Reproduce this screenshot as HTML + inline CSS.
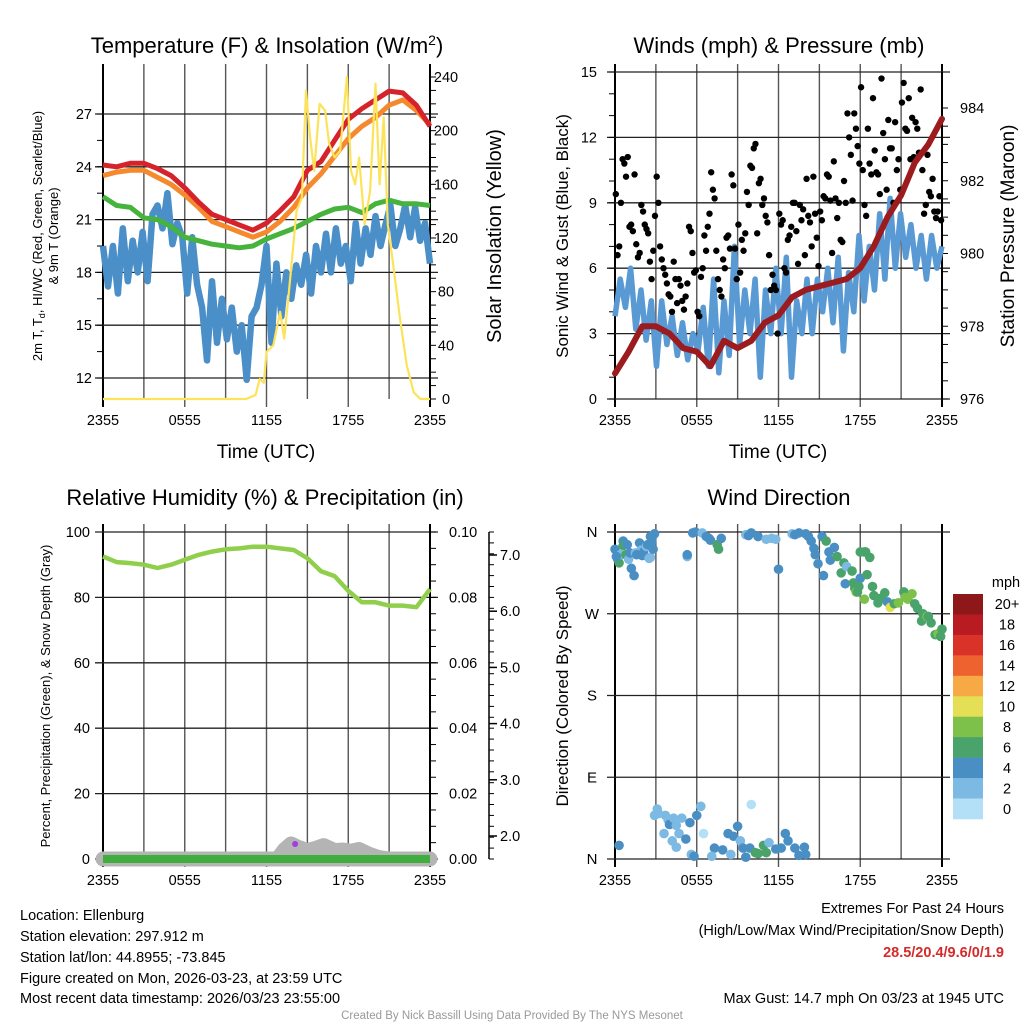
<!DOCTYPE html>
<html><head><meta charset="utf-8"><style>
html,body{margin:0;padding:0;background:#fff;}
svg{display:block;font-family:"Liberation Sans",sans-serif;}
</style></head><body>
<svg id="fig" width="1024" height="1024" viewBox="0 0 1024 1024" xmlns="http://www.w3.org/2000/svg">
<rect width="1024" height="1024" fill="#fff"/>
<text x="267" y="53" font-size="22" text-anchor="middle">Temperature (F) &amp; Insolation (W/m<tspan dy="-8" font-size="14">2</tspan><tspan dy="8">)</tspan></text>
<text x="779" y="53" font-size="22" text-anchor="middle">Winds (mph) &amp; Pressure (mb)</text>
<text x="265" y="505" font-size="22" text-anchor="middle">Relative Humidity (%) &amp; Precipitation (in)</text>
<text x="779" y="505" font-size="22" text-anchor="middle">Wind Direction</text>
<text x="266" y="458" font-size="19" text-anchor="middle">Time (UTC)</text>
<text x="778" y="458" font-size="19" text-anchor="middle">Time (UTC)</text>
<text transform="translate(42,236) rotate(-90)" font-size="13" text-anchor="middle">2m T, T<tspan font-size="9" dy="3">d</tspan><tspan dy="-3">, HI/WC (Red, Green, Scarlet/Blue)</tspan></text>
<text transform="translate(58,236) rotate(-90)" font-size="13" text-anchor="middle">&amp; 9m T (Orange)</text>
<text transform="translate(501,236) rotate(-90)" font-size="20" text-anchor="middle">Solar Insolation (Yellow)</text>
<text transform="translate(568,236) rotate(-90)" font-size="17" text-anchor="middle">Sonic Wind &amp; Gust (Blue, Black)</text>
<text transform="translate(1014,236) rotate(-90)" font-size="19" text-anchor="middle">Station Pressure (Maroon)</text>
<text transform="translate(50,696) rotate(-90)" font-size="13" text-anchor="middle">Percent, Precipitation (Green), &amp; Snow Depth (Gray)</text>
<text transform="translate(568,696) rotate(-90)" font-size="17" text-anchor="middle">Direction (Colored By Speed)</text>
<g font-size="14.5">
<text x="20" y="920">Location: Ellenburg</text>
<text x="20" y="941">Station elevation: 297.912 m</text>
<text x="20" y="962">Station lat/lon: 44.8955; -73.845</text>
<text x="20" y="983">Figure created on Mon, 2026-03-23, at 23:59 UTC</text>
<text x="20" y="1003">Most recent data timestamp: 2026/03/23 23:55:00</text>
</g>
<g font-size="14.5" text-anchor="end">
<text x="1004" y="913">Extremes For Past 24 Hours</text>
<text x="1004" y="935">(High/Low/Max Wind/Precipitation/Snow Depth)</text>
<text x="1004" y="957" fill="#d42a2a" font-weight="bold">28.5/20.4/9.6/0/1.9</text>
<text x="1004" y="1003">Max Gust: 14.7 mph On 03/23 at 1945 UTC</text>
</g>
<text x="512" y="1019" font-size="11.5" fill="#999" text-anchor="middle">Created By Nick Bassill Using Data Provided By The NYS Mesonet</text>
<g id="plots"></g>
</svg>
<script>
// ---------- data ----------
const xTickLabels = ["2355","0555","1155","1755","2355"];
const tempTicks = [12,15,18,21,24,27];
const solarTicks = [0,40,80,120,160,200,240];
const windTicks = [0,3,6,9,12,15];
const presTicks = [976,978,980,982,984];
const rhTicks = [0,20,40,60,80,100];
const precipTicks = ["0.00","0.02","0.04","0.06","0.08","0.10"];
const snowTicks = [2,3,4,5,6,7];
const dirTicks = ["N","E","S","W","N"];
const cbLabels = ["20+","18","16","14","12","10","8","6","4","2","0"];
const cbColors = ["#8e1719","#b81b22","#d93228","#ee6230","#f6a944","#e5df55","#7dc04a","#4aa36a","#4a8fc4","#7cb9e3","#b3e0f7"];

const tempRed = [24.1,24.0,24.2,24.2,23.9,23.5,22.8,22.0,21.3,21.0,20.7,20.4,20.8,21.5,22.3,23.8,24.3,25.5,26.7,27.3,27.8,28.3,28.2,27.5,26.3];
const tempOrange = [23.5,23.7,23.8,23.8,23.4,23.0,22.4,21.7,20.9,20.6,20.3,20.0,20.3,20.9,21.7,22.8,23.6,24.6,25.6,26.3,26.8,27.5,27.8,27.2,26.4];
const tempGreen = [22.3,21.8,21.7,21.1,21.0,20.6,20.0,19.8,19.6,19.5,19.4,19.5,19.9,20.2,20.5,20.9,21.3,21.6,21.7,21.4,21.9,22.1,21.9,21.9,21.8];
const tempBlue = [19.5,17.2,19.5,16.8,20.5,17.5,19.8,18.0,20.3,17.5,21.3,21.8,20.5,22.5,19.6,20.8,20.0,16.8,20.0,17.3,16.0,13.0,17.5,14.0,16.5,14.2,16.0,13.5,15.0,11.9,15.5,16.0,17.3,19.5,14.0,18.5,15.5,18.0,16.5,18.4,17.3,19.0,16.8,19.5,18.0,20.2,18.0,20.5,18.5,19.5,17.5,20.8,18.5,20.5,19.0,21.2,19.5,20.7,21.8,19.5,20.5,21.8,20.0,21.7,19.8,20.8,18.5];
const solarHour = [0,10.5,11.2,11.5,11.8,12.0,12.5,13.0,13.3,13.6,14.2,14.6,14.9,15.2,15.5,15.9,16.3,16.6,17.0,17.4,17.9,18.2,18.5,18.8,19.2,19.6,20.0,20.3,20.6,20.9,21.3,21.8,22.3,22.8,23.3,24];
const solarVal = [0,0,3,15,12,35,40,65,45,75,140,150,230,195,170,220,215,190,180,185,240,170,160,180,130,155,235,160,210,130,100,60,25,5,0,0];

const windSpeed = [3.8,5.5,4.2,6.0,3.2,5.0,2.7,4.5,1.5,4.5,2.5,3.8,2.0,3.5,1.8,3.0,2.2,4.2,1.5,5.5,1.2,4.5,2.0,7.0,2.5,5.0,3.0,5.5,1.0,5.0,3.0,6.0,3.0,6.5,1.0,4.5,3.0,5.5,3.0,5.5,4.0,6.0,3.5,6.5,2.2,5.8,4.0,7.5,4.5,7.0,5.0,8.5,5.5,9.2,6.0,8.5,6.5,8.0,6.0,7.5,5.5,7.5,6.0,7.0];
const gusts = [9.4,6.6,7.0,9.0,11.0,10.8,10.2,11.1,7.9,8.0,7.7,10.3,7.1,6.5,6.7,8.9,8.6,8.0,7.8,7.6,6.3,5.5,6.8,8.4,10.2,9.0,7.0,6.4,6.0,5.7,5.3,4.8,4.7,4.0,6.3,5.5,4.4,5.5,5.2,4.5,4.1,4.7,5.3,7.9,7.7,6.7,5.8,5.9,4.0,3.8,5.6,6.0,7.5,6.8,7.9,8.5,10.4,9.6,9.2,6.8,5.5,5.0,4.7,6.4,6.0,7.4,7.5,6.9,10.3,9.8,6.9,5.5,8.0,5.8,7.3,6.8,7.6,9.5,8.9,10.7,10.6,11.5,11.7,7.6,9.9,10.1,8.9,9.2,8.4,8.1,6.6,5.0,5.7,5.2,5.0,3.0,8.5,8.0,8.2,6.0,5.8,7.3,7.5,7.9,9.0,9.0,7.7,6.2,8.9,8.2,8.7,6.6,10.1,8.4,8.1,7.0,10.2,8.5,7.4,6.1,8.6,8.2,9.3,9.2,10.3,10.2,9.1,6.7,10.9,9.2,8.3,9.0,7.3,7.2,10.0,9.0,13.1,12.0,11.2,9.1,13.1,12.4,11.6,10.8,14.3,10.5,8.9,8.4,12.4,10.8,10.3,13.8,11.4,10.4,10.3,9.4,14.7,12.2,11.0,9.6,12.8,11.5,11.5,9.0,12.7,10.5,11.0,9.6,13.6,14.5,12.4,12.3,13.8,11.0,12.9,11.1,12.7,12.4,11.3,14.2,10.5,8.5,8.9,11.2,9.5,9.3,10.1,8.6,8.3,8.6,9.3,8.2];
const pressure = [976.7,977.3,978.0,978.0,977.8,977.4,977.3,976.9,977.6,977.4,977.6,978.1,978.3,978.8,979.0,979.1,979.2,979.3,979.6,980.2,981.0,981.6,982.5,983.0,983.7];

const rh = [92.5,90.8,90.5,90.0,89.0,90.0,91.5,93.0,94.0,94.7,95.0,95.5,95.5,95.0,94.5,92.0,88.0,86.5,82.0,78.5,78.5,77.5,77.5,77.0,82.5];
const snowHour = [0,12.8,13.3,13.8,14.3,15.0,15.6,16.2,17.0,17.6,18.2,18.8,19.5,20.2,21,24];
const snowDepth = [1.59,1.59,1.75,1.86,1.80,1.74,1.78,1.83,1.74,1.75,1.73,1.76,1.68,1.62,1.59,1.59];
const precip = [0,0];

const dirHour = [0.0,0.2,0.3,0.4,0.6,0.6,0.9,0.8,1.0,1.1,1.2,1.4,1.8,1.9,2.0,2.1,2.3,2.4,2.6,2.6,2.7,2.9,2.8,1.5,1.6,2.5,0.1,5.3,5.3,5.7,5.9,6.4,6.7,6.9,7.0,7.5,7.6,7.8,9.6,9.8,10.0,10.5,11.1,11.5,11.8,12.0,13.0,13.2,13.5,14.0,14.2,14.4,14.6,14.7,14.9,15.3,15.2,15.5,15.7,15.8,16.1,16.3,16.8,16.6,16.9,17.0,17.5,17.6,17.4,17.7,17.8,18.0,17.9,18.3,18.5,18.4,18.3,18.0,18.7,18.9,19.0,19.3,19.5,19.8,20.0,20.2,20.5,20.8,21.2,21.3,21.5,21.8,22.0,22.2,22.5,22.6,22.9,23.0,23.2,23.5,23.7,24.0,23.9,0.3,2.9,3.1,3.2,3.7,3.9,4.0,4.3,4.5,4.7,4.5,4.9,5.2,5.5,5.6,5.8,6.0,6.3,6.5,7.3,7.9,8.3,8.7,9.0,9.2,9.4,9.6,9.9,10.0,10.3,10.5,10.9,11.1,11.3,11.8,12.2,12.5,12.7,13.2,13.5,13.9,14.0,3.6,4.2,7.1,8.5];
const dirDeg = [341,330,326,335,350,345,346,335,330,337,320,312,348,340,334,338,344,346,332,355,350,358,341,337,335,331,333,333,335,359,360,359,355,353,351,346,341,353,357,356,359,355,352,353,352,319,358,357,359,358,355,350,342,335,325,312,355,350,338,329,343,333,326,315,303,322,304,298,317,294,294,309,300,286,313,338,338,338,332,300,290,282,287,293,283,277,281,282,294,288,286,292,281,276,262,270,267,267,260,247,248,253,245,15,48,55,50,48,43,38,45,37,28,13,45,22,40,5,3,48,58,28,12,10,28,25,36,20,12,2,12,60,7,6,15,7,18,11,12,28,20,12,4,13,5,28,20,3,5];
const dirSpeed = [4,4,6,3,4,7,4,6,2,4,4,4,4,2,4,4,2,4,2,4,4,4,4,2,4,2,4,2,4,4,4,2,4,4,4,6,6,4,2,4,4,4,2,2,2,4,2,4,4,4,4,4,4,4,4,4,4,6,4,4,4,6,6,6,4,2,6,6,6,8,6,4,6,8,6,6,6,6,6,6,6,6,6,6,4,10,6,8,6,8,8,8,6,6,6,6,8,6,6,6,8,6,6,4,2,2,2,2,2,4,2,2,2,2,2,4,4,2,4,4,2,0,4,4,4,4,4,2,4,4,4,0,6,6,6,6,2,4,4,4,4,4,4,4,4,2,2,2,2];

// ---------- drawing ----------
const NS = "http://www.w3.org/2000/svg";
const root = document.getElementById('plots');
function el(tag, attrs, parent){
  const e = document.createElementNS(NS, tag);
  for (const k in attrs) e.setAttribute(k, attrs[k]);
  (parent||root).appendChild(e);
  return e;
}
function scale(d0,d1,r0,r1){ return v => r0 + (v-d0)/(d1-d0)*(r1-r0); }
function lineD(xs, ys){ return xs.map((x,i)=>(i?'L':'M')+x.toFixed(1)+','+ys[i].toFixed(1)).join(''); }
function evenHours(n){ return Array.from({length:n},(_,i)=>i*24/(n-1)); }

function frame(L,R,T,B,hTicksY,name){
  const g = el('g',{});
  
  
  for (let i=0;i<=8;i++){
    const x = L + i*(R-L)/8;
    el('line',{x1:x,y1:T-8,x2:x,y2:B+ (i%2===0?8:0),stroke:(i===0||i===8)?'#000':'#555','stroke-width':(i===0||i===8)?2:1.4},g);
  }
  hTicksY.forEach(y=>el('line',{x1:L-8,y1:y,x2:R+8,y2:y,stroke:'#222','stroke-width':1.3},g));
  xTickLabels.forEach((t,i)=>{
    const tx = el('text',{x:L+i*(R-L)/4,y:B+26,'font-size':14.5,'text-anchor':'middle'},g);
    tx.textContent=t;
  });
  return g;
}
function labels(vals, ys, x, anchor, size, name){
  vals.forEach((v,i)=>{
    const t = el('text',{x:x,y:ys[i]+5,'font-size':size||14.5,'text-anchor':anchor});
    
    
    t.textContent = v;
  });
}
function minor(x, y0, y1, n, len){
  for (let i=0;i<=n;i++){ const y=y0+i*(y1-y0)/n; el('line',{x1:x,y1:y,x2:x+len,y2:y,stroke:'#000','stroke-width':1}); }
}

// Panel 1: temperature
{
  const L=103,R=430,T=72,B=399;
  const xs = scale(0,24,L,R), yT = scale(12,27,378,114), yS = scale(0,240,399,77);
  frame(L,R,T,B,tempTicks.map(yT),'temp');
  labels(tempTicks, tempTicks.map(yT), 92,'end',14.5,'temp-tick-label');
  labels(solarTicks, solarTicks.map(yS), 446,'middle',14.5,'solar-tick-label');
  el('line',{x1:R,y1:T,x2:R,y2:B,stroke:'#000','stroke-width':2});
  minor(R, 399, 77, 24, 6);
  minor(L-6, 378, 114, 10, 6);
  const hb = evenHours(tempBlue.length);
  const b = el('path',{d:lineD(hb.map(xs),tempBlue.map(yT)),fill:'none',stroke:'#4a8fc8','stroke-width':6.5,'stroke-linejoin':'round'});
   
  const h = evenHours(25);
  const g = el('path',{d:lineD(h.map(xs),tempGreen.map(yT)),fill:'none',stroke:'#45b33c','stroke-width':5,'stroke-linejoin':'round'});
   
  const o = el('path',{d:lineD(h.map(xs),tempOrange.map(yT)),fill:'none',stroke:'#f4892e','stroke-width':5,'stroke-linejoin':'round'});
   
  const r = el('path',{d:lineD(h.map(xs),tempRed.map(yT)),fill:'none',stroke:'#d6222a','stroke-width':5,'stroke-linejoin':'round'});
   
  const s = el('path',{d:lineD(solarHour.map(xs),solarVal.map(yS)),fill:'none',stroke:'#fce35a','stroke-width':2.2,'stroke-linejoin':'round'});
   
}
// Panel 2: wind
{
  const L=615,R=942,T=72,B=399;
  const xs = scale(0,24,L,R), yW = scale(0,15,399,72), yP = scale(976,984,399,108);
  frame(L,R,T,B,windTicks.map(yW),'wind');
  labels(windTicks, windTicks.map(yW), 597,'end',14.5,'wind-tick-label');
  labels(presTicks, presTicks.map(yP), 960,'start',14.5,'pressure-tick-label');
  el('line',{x1:R,y1:T,x2:R,y2:B,stroke:'#000','stroke-width':2});
  minor(R, 399, 108, 16, 6);
  minor(L-6, 399, 72, 15, 6);
  const hw = evenHours(windSpeed.length);
  const w = el('path',{d:lineD(hw.map(xs),windSpeed.map(yW)),fill:'none',stroke:'#5a9ad4','stroke-width':5.5,'stroke-linejoin':'round'});
   
  gusts.forEach((v,i)=>{
    const c = el('circle',{cx:xs(i*24/gusts.length+0.06),cy:yW(v),r:3.2,fill:'#000'});
    
    
  });
  const p = el('path',{d:lineD(evenHours(25).map(xs),pressure.map(yP)),fill:'none',stroke:'#9b1b1e','stroke-width':6,'stroke-linejoin':'round','stroke-linecap':'round'});
   
}
// Panel 3: RH
{
  const L=103,R=430,T=532,B=859;
  const xs = scale(0,24,L,R), yR = scale(0,100,859,532), ySn = scale(2,7,836,555);
  frame(L,R,T,B,rhTicks.map(yR),'rh');
  labels(rhTicks, rhTicks.map(yR), 90,'end',14.5,'rh-tick-label');
  labels(precipTicks, rhTicks.map(yR), 449,'start',14.5,'precip-tick-label');
  labels(snowTicks.map(v=>v.toFixed(1)), snowTicks.map(ySn), 500,'start',14.5,'snow-tick-label');
  el('line',{x1:R,y1:T,x2:R,y2:B,stroke:'#000','stroke-width':2});
  minor(R, 859, 532, 20, 6);
  el('line',{x1:489,y1:532,x2:489,y2:859,stroke:'#000','stroke-width':1.5});
  minor(489, 859, 532, 30, 5);
  snowTicks.forEach(v=>el('line',{x1:489,y1:ySn(v),x2:497,y2:ySn(v),stroke:'#000','stroke-width':1.5}));
  const sn = el('path',{d:lineD(snowHour.map(xs),snowDepth.map(ySn))+'L'+xs(24)+','+(B)+'L'+xs(0)+','+B+'Z',fill:'#b4b4b4',stroke:'#b4b4b4','stroke-width':15,'stroke-linejoin':'round','stroke-linecap':'round'});
   
  const pr = el('path',{d:lineD([xs(0),xs(24)],precip.map(v=>yR(v*1000))),fill:'none',stroke:'#3fae3f','stroke-width':8});
   
  const rl = el('path',{d:lineD(evenHours(25).map(xs),rh.map(yR)),fill:'none',stroke:'#8fcf4c','stroke-width':4.5,'stroke-linejoin':'round'});
   
  const mk = el('circle',{cx:xs(14.1),cy:844,r:3,fill:'#a03ee0'});
   
}
// Panel 4: wind direction
{
  const L=615,R=942,T=532,B=859;
  const xs = scale(0,24,L,R), yD = scale(0,360,859,532);
  frame(L,R,T,B,[0,90,180,270,360].map(yD),'direction');
  labels(dirTicks, [0,90,180,270,360].map(yD), 592,'middle',15,'direction-tick-label');
  dirHour.forEach((h,i)=>{
    const bin = Math.min(10, Math.floor(dirSpeed[i]/2));
    const c = el('circle',{cx:xs(h),cy:yD(dirDeg[i]),r:4.8,fill:cbColors[10-bin]});
    
    
  });
  const t = el('text',{x:1006,y:587,'font-size':14.5,'text-anchor':'middle'});
  
  
  t.textContent='mph';
  const bh = (819-594)/11;
  cbColors.forEach((c,i)=>{
    const r = el('rect',{x:953,y:594+i*bh,width:30,height:bh+0.3,fill:c});
    
    
    const l = el('text',{x:1007,y:594+i*bh+bh/2+5,'font-size':14.5,'text-anchor':'middle'});
    
    
    l.textContent = cbLabels[i];
  });
}
</script>
</body></html>
